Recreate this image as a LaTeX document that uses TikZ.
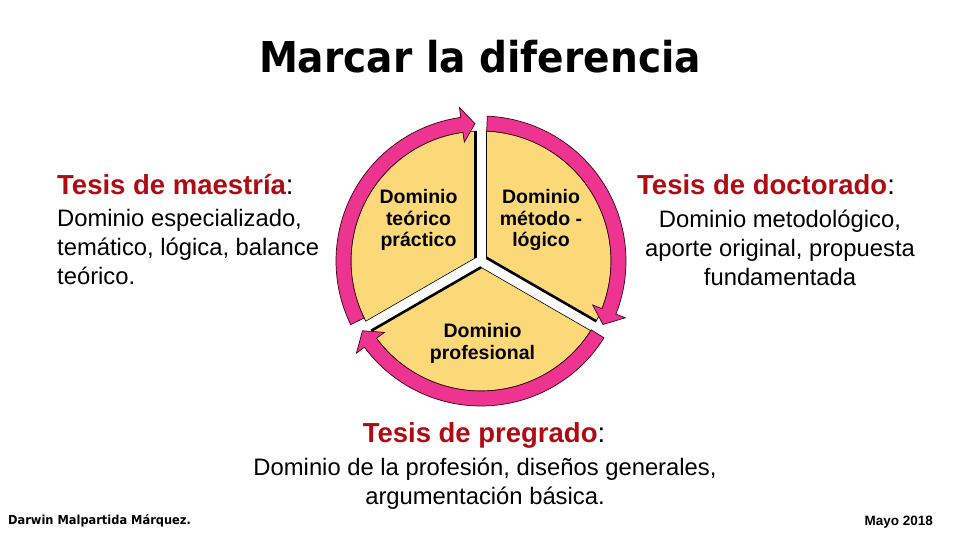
\documentclass[tikz,border=0pt]{standalone}
\usepackage{fontspec}
\setmainfont{Liberation Sans}
\newfontfamily\titlefont[FakeStretch=0.92]{DejaVu Sans}

\definecolor{ringpink}{RGB}{238,52,145}
\definecolor{sectoryellow}{RGB}{252,217,120}
\definecolor{headred}{RGB}{176,10,18}
\definecolor{ringline}{RGB}{60,0,20}

\tikzset{
  sector/.style={fill=sectoryellow, draw=black, line width=0.6pt},
  sectoredge/.style={draw=black, line width=2.6pt},
  ringarrow/.style={fill=ringpink, draw=ringline, line width=0.7pt, line join=miter},
  heading/.style={inner sep=0pt, text=headred, font=\fontsize{27.5}{30}\selectfont\bfseries},
  bodytext/.style={inner sep=0pt, font=\fontsize{23.8}{29}\selectfont},
  sectortext/.style={inner sep=0pt, align=center, font=\fontsize{19.5}{21.5}\selectfont\bfseries}
}

% yellow sector between two angles, shadow line on the clockwise edge
\newcommand{\yellowsector}[2]{%
  \draw[sector] ({(#1+#2)/2}:6.35) -- ({#2-2.42}:130)
    arc[start angle={#2-2.42}, end angle={#1+2.42}, radius=130pt] -- cycle;
  \draw[sectoredge] ({(#1+#2)/2}:6.35) -- ({#1+2.42}:130);}

% pink ring arrow: start angle, base of head, tip
\newcommand{\ringarc}[3]{%
  \draw[ringarrow] (#1:145) arc[start angle=#1, end angle=#2, radius=145pt]
    -- (#2:155) -- (#3:137.5) -- (#2:120) -- (#2:130)
    arc[start angle=#2, end angle=#1, radius=130pt] -- cycle;}

\begin{document}
\begin{tikzpicture}[x=1pt,y=1pt]
  \useasboundingbox[fill=white] (0,0) rectangle (960,540);

  % title
  \node[inner sep=0pt, anchor=base, font=\titlefont\bfseries\fontsize{42.5}{50}\selectfont] (title) at (480,467) {Marcar la diferencia};

  % cycle
  \begin{scope}[shift={(481,279)}]
    \yellowsector{90}{210}
    \yellowsector{-30}{90}
    \yellowsector{210}{330}
    \ringarc{206}{98}{92.5}
    \ringarc{87.5}{-21.5}{-27.5}
    \ringarc{-32}{-143.5}{-149.5}
  \end{scope}

  \node[sectortext, anchor=north] (teorico) at (418.5,350.5) {Dominio\\teórico\\práctico};
  \node[sectortext, anchor=north] (metodo) at (541,350.5) {Dominio\\método -\\lógico};
  \node[sectortext, anchor=north] (profesional) at (482.5,216.5) {Dominio\\profesional};

  % maestria
  \node[heading, anchor=base west] (maestria) at (57,345) {Tesis de maestría\textcolor{black}{\mdseries:}};
  \node[bodytext, anchor=north west, align=left] (maestriatxt) at (57,330.5) {Dominio especializado,\\temático, lógica, balance\\teórico.};

  % doctorado
  \node[heading, anchor=base west] (doctorado) at (637,345) {Tesis de doctorado\textcolor{black}{\mdseries:}};
  \node[bodytext, anchor=north, align=center] (doctoradotxt) at (780,330.5) {Dominio metodológico,\\aporte original, propuesta\\fundamentada};

  % pregrado
  \node[heading, anchor=base] (pregrado) at (484,97) {Tesis de pregrado\textcolor{black}{\mdseries:}};
  \node[bodytext, anchor=north, align=center] (pregradotxt) at (485,82.5) {Dominio de la profesión, diseños generales,\\argumentación básica.};

  % footer
  \node[inner sep=0pt, anchor=base west, font=\titlefont\bfseries\fontsize{12.4}{14}\selectfont] (autor) at (8,15) {Darwin Malpartida Márquez.};
  \node[inner sep=0pt, anchor=base east, font=\fontsize{13.5}{16}\selectfont\bfseries] (fecha) at (933,14) {Mayo 2018};
\end{tikzpicture}
\end{document}
